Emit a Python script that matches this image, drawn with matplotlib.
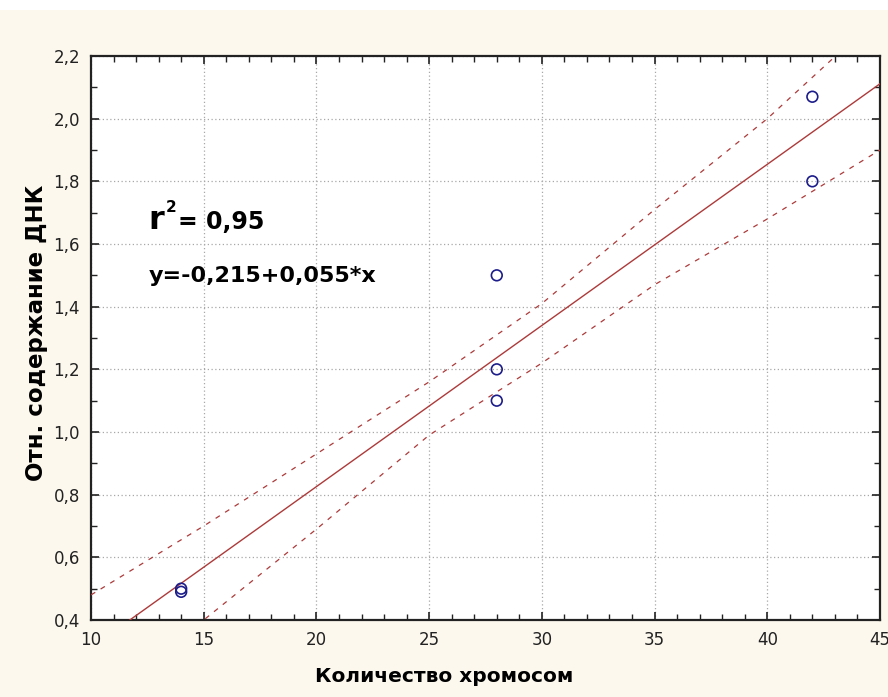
import numpy as np
import matplotlib
matplotlib.use("Agg")
import matplotlib.pyplot as plt
from matplotlib.ticker import MultipleLocator, FuncFormatter
from matplotlib.patches import Rectangle

# ---- data ----
chrom = [14, 14, 28, 28, 28, 42, 42]
dna = [0.49, 0.50, 1.50, 1.20, 1.10, 2.07, 1.80]

# 95% confidence band, read at grid positions
band_x = [10, 15, 20, 25, 30, 35, 40, 45]
band_up = [0.48, 0.70, 0.93, 1.16, 1.41, 1.71, 2.00, 2.33]
band_lo = [0.10, 0.40, 0.69, 0.99, 1.22, 1.47, 1.68, 1.90]

r2_text = "= 0,95"
eq_text = "y=-0,215+0,055*x"

# ---- regression line from the points ----
slope, icpt = np.polyfit(chrom, dna, 1)
fit_x = np.array([10, 45])
fit_y = icpt + slope * fit_x

red = "#ad3a3a"
bg = "#fcf8ee"

fig = plt.figure(figsize=(8.88, 6.97), dpi=100, facecolor=bg)
fig.patches.append(Rectangle((0, 0.986), 1, 0.014, transform=fig.transFigure,
                             facecolor="white", edgecolor="none", zorder=0))
ax = fig.add_axes([91 / 888, 1 - 620 / 697, (880 - 91) / 888, (620 - 56) / 697])
ax.set_facecolor("white")

ax.plot(fit_x, fit_y, color=red, lw=1.0, zorder=3)
ax.plot(band_x, band_up, color=red, lw=0.9, ls=(0, (4, 5)), zorder=3)
ax.plot(band_x, band_lo, color=red, lw=0.9, ls=(0, (4, 5)), zorder=3)
ax.scatter(chrom, dna, s=60, facecolors="none", edgecolors="#1c1c8a", lw=1.2, zorder=4)

ax.set_xlim(10, 45)
ax.set_ylim(0.4, 2.2)
ax.xaxis.set_major_locator(MultipleLocator(5))
ax.xaxis.set_minor_locator(MultipleLocator(1))
ax.yaxis.set_major_locator(MultipleLocator(0.2))
ax.yaxis.set_minor_locator(MultipleLocator(0.1))
ax.xaxis.set_major_formatter(FuncFormatter(lambda v, p: f"{v:.0f}"))
ax.yaxis.set_major_formatter(FuncFormatter(lambda v, p: f"{v:.1f}".replace(".", ",")))

ax.tick_params(which="both", direction="in", top=True, right=True, colors="#222222",
               labelsize=12)
ax.tick_params(which="major", length=6, width=1.2)
ax.tick_params(which="minor", length=4, width=1.0)
ax.tick_params(axis="y", pad=8)
ax.tick_params(axis="x", pad=8)
for s in ax.spines.values():
    s.set_color("#222222")
    s.set_linewidth(1.6)

ax.grid(True, which="major", ls=(0, (1, 2)), color="#a8a8a8", lw=0.9)
ax.set_axisbelow(True)

# labels
fig.text(444 / 888, 1 - 676 / 697, "Количество хромосом", ha="center", va="center",
         fontsize=14.5, fontweight="bold")
fig.text(37 / 888, 1 - 333 / 697, "Отн. содержание ДНК", ha="center", va="center",
         rotation=90, fontsize=16.5, fontweight="bold")

# r^2 and equation
fig.text(148 / 888, 1 - 229 / 697, "r", fontsize=23, fontweight="bold", va="baseline")
fig.text(166 / 888, 1 - 212 / 697, "2", fontsize=11, fontweight="bold", va="baseline")
fig.text(178 / 888, 1 - 229 / 697, r2_text, fontsize=17, fontweight="bold", va="baseline")
fig.text(149 / 888, 1 - 282 / 697, eq_text, fontsize=16, fontweight="bold", va="baseline")

fig.savefig("out.png", dpi=100, facecolor=bg)
